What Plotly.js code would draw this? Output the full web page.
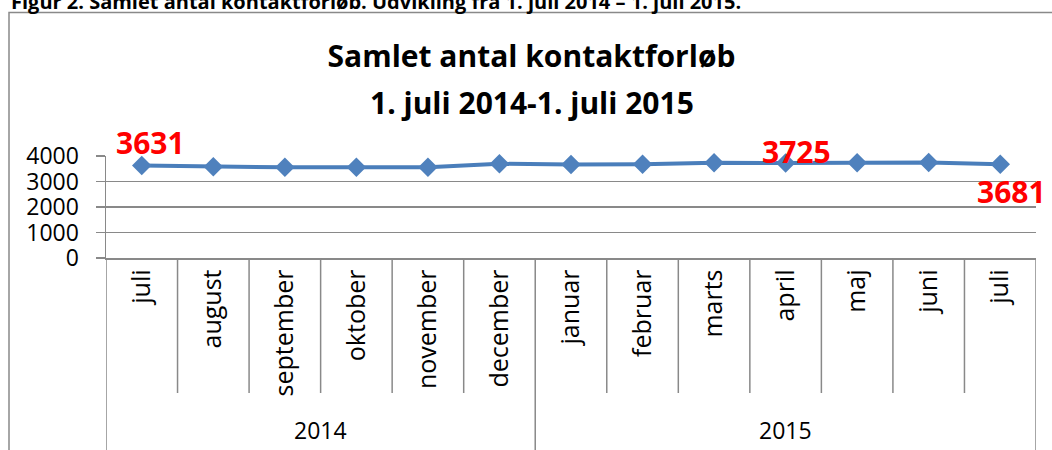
<!DOCTYPE html>
<html>
<head>
<meta charset="utf-8">
<script src="https://cdn.plot.ly/plotly-3.0.1.min.js"></script>
<style>html,body{margin:0;padding:0;background:#fff;}#chart{width:1052px;height:450px;}</style>
</head>
<body>
<div id="chart"></div>
<script>
// ---- data ----
const months = ['juli','august','september','oktober','november','december','januar','februar','marts','april','maj','juni','juli'];
const years = ['2014','2014','2014','2014','2014','2014','2015','2015','2015','2015','2015','2015','2015'];
const values = [3631, 3580, 3555, 3555, 3555, 3695, 3665, 3680, 3740, 3725, 3735, 3750, 3681];
const labeledIdx = [0, 9, 12];
const yTicks = [0, 1000, 2000, 3000, 4000];
const chartTitle = 'Samlet antal kontaktforløb';
const chartSubtitle = '1. juli 2014-1. juli 2015';
const caption = 'Figur 2. Samlet antal kontaktforløb. Udvikling fra 1. juli 2014 – 1. juli 2015.';

// ---- styles ----
const FONT = 'Open Sans, Noto Sans, sans-serif';
const GRID = '#898989';
const labelOffsets = [[9, 23], [11, 12], [11, -27]];

const xIdx = months.map((m, i) => i);

const trace = {
  type: 'scatter', mode: 'lines+markers',
  x: xIdx, y: values,
  line: {color: '#4A7EBB', width: 4},
  marker: {symbol: 'diamond', size: 15, color: '#4F81BD'},
  hoverinfo: 'skip', cliponaxis: false
};

// geometry helpers (pixel -> paper)
const W = 1052, H = 450, L = 106, R = 16, T = 156, B = 192;
const pw = W - L - R, ph = H - T - B;
const px = X => (X - L) / pw;
const py = Y => (H - B - Y) / ph;

const annotations = [];
labeledIdx.forEach((i, k) => {
  annotations.push({
    x: i, y: values[i], xref: 'x', yref: 'y', text: String(values[i]), showarrow: false,
    xshift: labelOffsets[k][0], yshift: labelOffsets[k][1],
    font: {family: FONT, size: 30, color: '#FF0000', weight: 700}
  });
});
// year group labels
const groups = [];
years.forEach((y, i) => {
  if (!groups.length || groups[groups.length - 1].label !== y) groups.push({label: y, start: i, end: i});
  else groups[groups.length - 1].end = i;
});
groups.forEach(g => {
  annotations.push({
    x: (g.start + g.end) / 2, xref: 'x', y: py(430), yref: 'paper', yanchor: 'middle',
    text: g.label, showarrow: false, font: {family: FONT, size: 23, color: '#000'}
  });
});
// subtitle line
annotations.push({
  x: px(531.5), xref: 'paper', y: py(102), yref: 'paper', yanchor: 'middle', xanchor: 'center',
  text: chartSubtitle, showarrow: false, font: {family: FONT, size: 30, color: '#000', weight: 700}
});
// clipped caption at the very top
annotations.push({
  x: px(9), xref: 'paper', xanchor: 'left', y: py(17), yref: 'paper', yanchor: 'bottom',
  text: caption, showarrow: false, font: {family: FONT, size: 20, color: '#000', weight: 700}
});

const shapes = [];
// outer frame
shapes.push({type: 'rect', xref: 'paper', yref: 'paper', x0: px(9), x1: px(1060), y0: py(470), y1: py(12.5),
  line: {color: GRID, width: 1.5}, fillcolor: 'rgba(0,0,0,0)', layer: 'below'});
// left axis extension
shapes.push({type: 'line', xref: 'x', yref: 'paper', x0: -0.5, x1: -0.5, y0: 0, y1: py(470), line: {color: GRID, width: 1.5}});
// category separators
for (let i = 1; i <= months.length; i++) {
  const isGroupEdge = i === months.length || years[i] !== years[i - 1];
  shapes.push({type: 'line', xref: 'x', yref: 'paper', x0: i - 0.5, x1: i - 0.5, y0: 0,
    y1: isGroupEdge ? py(470) : py(393), line: {color: GRID, width: 1.5}});
}

const layout = {
  width: W, height: H,
  margin: {l: L, r: R, t: T, b: B, pad: 0},
  paper_bgcolor: '#fff', plot_bgcolor: '#fff',
  showlegend: false, hovermode: false,
  font: {family: FONT, color: '#000'},
  title: {
    text: chartTitle, xref: 'container', yref: 'container',
    x: 531.5 / W, xanchor: 'center', y: 1 - 56 / H, yanchor: 'middle',
    font: {family: FONT, size: 30, color: '#000', weight: 700}
  },
  xaxis: {
    range: [-0.5, months.length - 0.5], tickvals: xIdx, ticktext: months, tickangle: -90,
    ticks: '', showgrid: false, zeroline: false, showline: true, linecolor: GRID, linewidth: 1.5,
    tickfont: {family: FONT, size: 25, color: '#000'}, ticklabelstandoff: 0, fixedrange: true
  },
  yaxis: {
    range: [0, 4000], tickvals: yTicks, ticktext: yTicks.map(String),
    ticks: 'outside', ticklen: 9, tickwidth: 1.5, tickcolor: GRID,
    showgrid: true, gridcolor: GRID, gridwidth: 1.5, zeroline: false,
    showline: true, linecolor: GRID, linewidth: 1.5,
    tickfont: {family: FONT, size: 23, color: '#000'}, ticklabelstandoff: 12, fixedrange: true
  },
  annotations: annotations,
  shapes: shapes
};

Plotly.newPlot('chart', [trace], layout, {displayModeBar: false, staticPlot: true});
</script>
</body>
</html>
